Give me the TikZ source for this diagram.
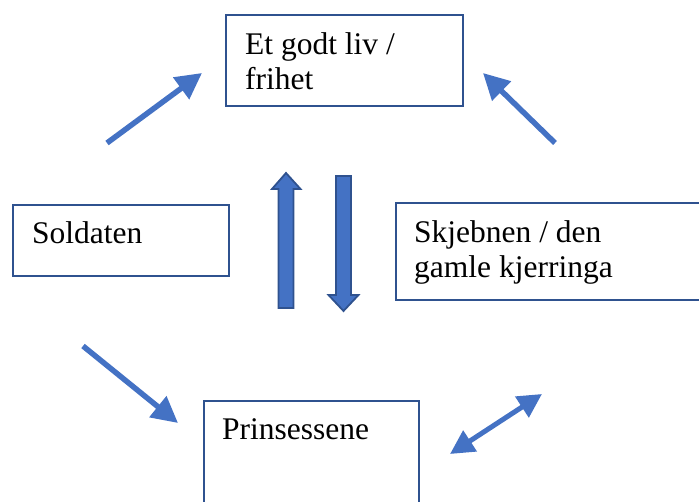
\documentclass[tikz,border=0pt]{standalone}
\usepackage{fontspec}
\setmainfont{Liberation Serif}
\usetikzlibrary{arrows.meta}
\definecolor{accent}{HTML}{4472C4}
\definecolor{outline}{HTML}{2F528F}
\tikzset{
  box/.style={draw=outline, line width=1.8pt, fill=white, anchor=north west, inner sep=0pt},
  boxtext/.style={anchor=base west, inner sep=0pt, align=left,
    font=\fontsize{31.5}{35.5}\selectfont},
  link/.style={draw=accent, line width=5.5pt,
    -{Triangle[length=26pt,width=26pt]}},
  twoway/.style={draw=accent, line width=5pt,
    {Triangle[length=24pt,width=24pt]}-{Triangle[length=24pt,width=24pt]}},
  blockarrow/.style={fill=accent, draw=outline, line width=1.8pt, line join=miter},
}
\begin{document}
\begin{tikzpicture}[x=1pt, y=-1pt]
  \useasboundingbox (0,0) rectangle (699,502);

  % the four boxes
  \node[box, minimum width=237pt, minimum height=91pt] (liv) at (225,14) {};
  \node[box, minimum width=216pt, minimum height=71pt] (soldat) at (12,204) {};
  \node[box, minimum width=310pt, minimum height=97pt] (skjebne) at (395,202) {};
  \node[box, minimum width=215pt, minimum height=110pt] (prins) at (203,400) {};

  % box texts (a multi-line node sits on the baseline of its last line)
  \node[boxtext] (livtxt) at (245,90) {Et godt liv /\\frihet};
  \node[boxtext] (soldattxt) at (32,244) {Soldaten};
  \node[boxtext] (skjebnetxt) at (414,278) {Skjebnen / den\\gamle kjerringa};
  \node[boxtext] (prinstxt) at (222,440) {Prinsessene};

  % end points of the connecting arrows
  \coordinate (a1) at (107,143);
  \coordinate (b1) at (202,73);
  \coordinate (a2) at (555,143);
  \coordinate (b2) at (483,73);
  \coordinate (a3) at (83,346);
  \coordinate (b3) at (178,423);
  \coordinate (a4) at (450,454);
  \coordinate (b4) at (542,394);

  \draw[link] (a1) -- (b1);
  \draw[link] (a2) -- (b2);
  \draw[link] (a3) -- (b3);
  \draw[twoway] (a4) -- (b4);

  % up and down block arrows in the middle
  \draw[blockarrow] (278.5,308) -- (278.5,189) -- (272,189) -- (286,173)
    -- (300.5,189) -- (293.5,189) -- (293.5,308) -- cycle;
  \draw[blockarrow] (336,176) -- (336,295) -- (328.5,295) -- (343.5,311)
    -- (358.5,295) -- (351,295) -- (351,176) -- cycle;
\end{tikzpicture}
\end{document}
